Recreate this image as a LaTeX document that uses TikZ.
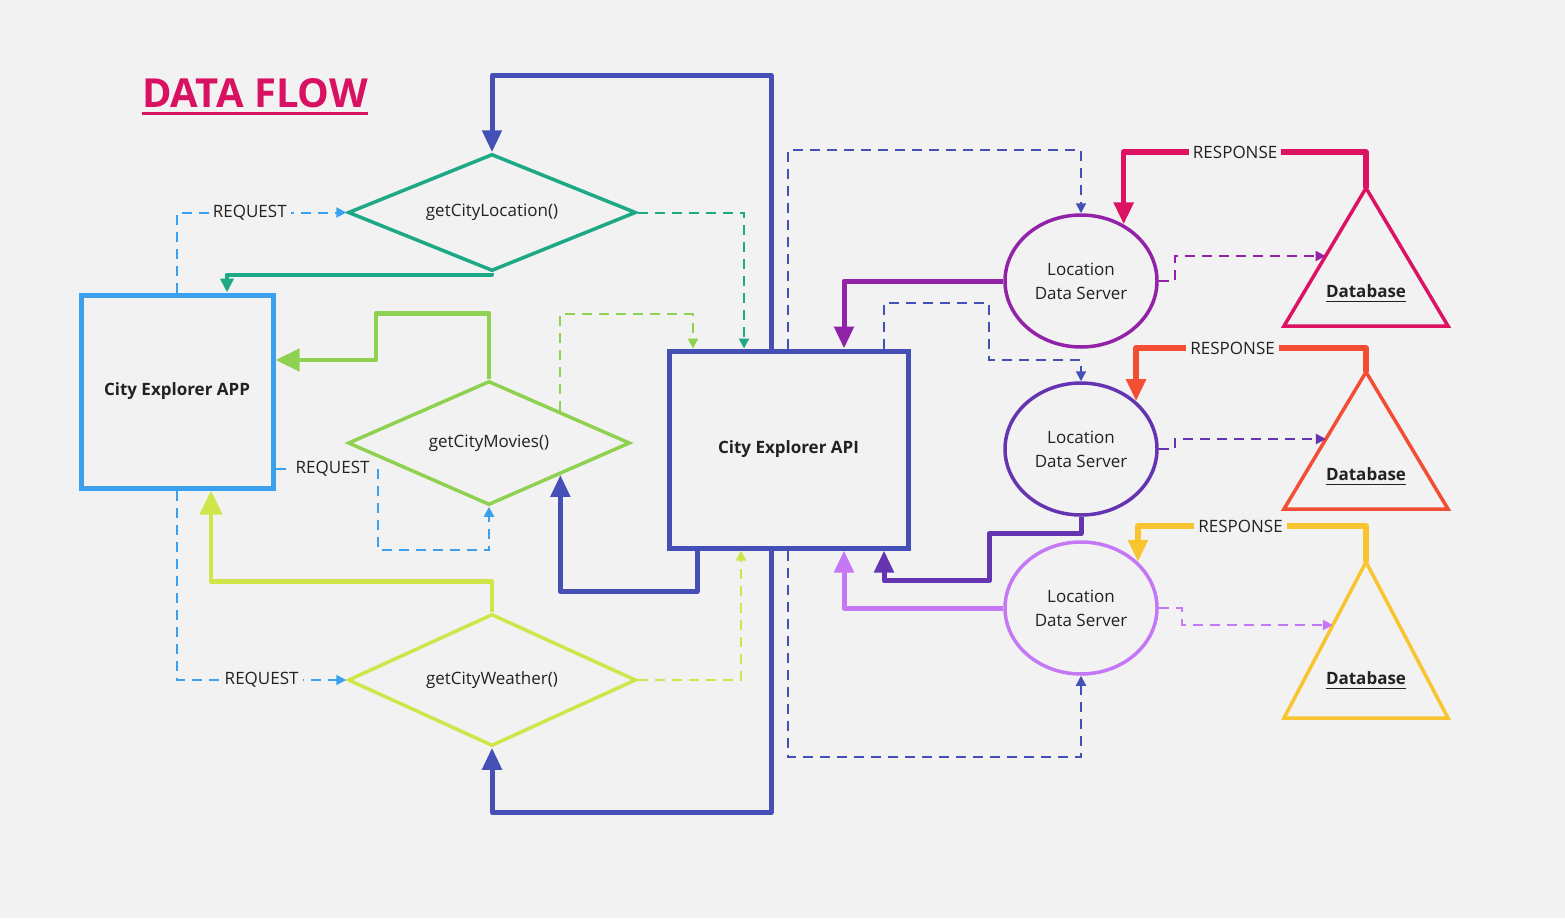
\documentclass[tikz,border=0pt]{standalone}
\usepackage{fontspec}
\setmainfont{Open Sans}
\usetikzlibrary{arrows.meta,shapes.geometric,calc}
\definecolor{bg}{HTML}{F2F2F2}
\definecolor{txt}{HTML}{222222}
\definecolor{appblue}{HTML}{3BA0EE}
\definecolor{indigo}{HTML}{4450B5}
\definecolor{teal}{HTML}{1DA886}
\definecolor{leaf}{HTML}{8FD150}
\definecolor{lime}{HTML}{D0E54A}
\definecolor{purA}{HTML}{9222A8}
\definecolor{purB}{HTML}{6535B1}
\definecolor{purC}{HTML}{C478F5}
\definecolor{magen}{HTML}{DC1263}
\definecolor{orng}{HTML}{F34D33}
\definecolor{yell}{HTML}{F8C530}
\definecolor{titlecol}{HTML}{D81162}
\tikzset{
  base/.style={font=\fontsize{17}{24}\selectfont, text=txt},
  boxnode/.style={base, draw, line width=5pt, rectangle, inner sep=0pt, font=\fontsize{17}{24}\selectfont\bfseries},
  dia/.style={base, draw, line width=3.5pt, diamond, inner sep=0pt},
  ell/.style={base, draw, line width=3.5pt, ellipse, inner sep=0pt, minimum width=152pt, minimum height=132pt, align=center},
  tri/.style={line width=3.5pt, line join=miter},
  thick5/.style={line width=5pt, line join=round, -{Triangle[length=22pt,width=19pt]}},
  thick4/.style={line width=4.5pt, line join=round, -{Triangle[length=24pt,width=22pt]}},
  thick3/.style={line width=3.5pt, line join=round, -{Triangle[length=14pt,width=13pt]}},
  dsh/.style={line width=2pt, dash pattern=on 10pt off 7pt, -{Triangle[length=10pt,width=10pt]}},
  lbl/.style={base, fill=bg, inner sep=4pt},
  dblbl/.style={base, font=\fontsize{17}{24}\selectfont\bfseries},
}
\begin{document}
\begin{tikzpicture}[x=1pt,y=-1pt]
\fill[bg] (0,0) rectangle (1565,918);
\useasboundingbox (0,0) rectangle (1565,918);

% title
\node[text=titlecol, font=\fontsize{40}{48}\selectfont\bfseries, inner sep=0pt] (title) at (255,93) {DATA FLOW};
\draw[titlecol, line width=2.5pt] ([yshift=-6pt]title.base west) -- ([yshift=-6pt]title.base east);

% main nodes
\node[boxnode, draw=appblue, minimum width=192pt, minimum height=193pt] (app) at (177,391.5) {City Explorer APP};
\node[boxnode, draw=indigo, minimum width=239pt, minimum height=197pt] (api) at (788.5,449.5) {City Explorer API};
\node[dia, draw=teal, aspect=2.46, minimum width=288pt, minimum height=117pt] (d1) at (492,212.5) {getCityLocation()};
\node[dia, draw=leaf, aspect=2.27, minimum width=282pt, minimum height=124pt] (d2) at (489,443) {getCityMovies()};
\node[dia, draw=lime, aspect=2.18, minimum width=288pt, minimum height=132pt] (d3) at (492,680) {getCityWeather()};
\node[ell, draw=purA] (e1) at (1081,281) {Location\\Data Server};
\node[ell, draw=purB] (e2) at (1081,449) {Location\\Data Server};
\node[ell, draw=purC] (e3) at (1081,608) {Location\\Data Server};

% triangles (databases)
\coordinate (t1a) at (1366,188); \coordinate (t1l) at (1284,326); \coordinate (t1r) at (1448,326);
\coordinate (t2a) at (1366,372); \coordinate (t2l) at (1284,509); \coordinate (t2r) at (1448,509);
\coordinate (t3a) at (1366,562); \coordinate (t3l) at (1284,718); \coordinate (t3r) at (1448,718);
\draw[tri, magen] (t1a) -- (t1l) -- (t1r) -- cycle;
\draw[tri, orng] (t2a) -- (t2l) -- (t2r) -- cycle;
\draw[tri, yell] (t3a) -- (t3l) -- (t3r) -- cycle;
\node[dblbl] (db1) at (1366,291) {Database};
\node[dblbl] (db2) at (1366,474) {Database};
\node[dblbl] (db3) at (1366,678) {Database};
\foreach \n in {db1,db2,db3}{
  \draw[txt, line width=1.5pt] ([xshift=4pt,yshift=-4pt]\n.base west) -- ([xshift=-4pt,yshift=-4pt]\n.base east);
}

% thick API -> functions
\draw[thick5, indigo] ([xshift=-17.5pt]api.north) -- ++(0,-273) -| (d1.north);
\draw[thick5, indigo] ([xshift=-17.5pt]api.south) -- ++(0,262) -| (d3.south);
\draw[thick5, indigo] ([xshift=-91.5pt]api.south) -- ++(0,41) -| (d2.south east);

% functions -> app
\draw[thick3, teal] (d1.south) -- ++(0,2) -| ([xshift=50pt]app.north);
\draw[thick4, leaf] (d2.north) -- ++(0,-66) -- ++(-113,0) |- ([yshift=31.5pt]app.east);
\draw[thick4, lime] (d3.north) -- ++(0,-31) -| ([xshift=34pt]app.south);

% requests app -> functions
\draw[dsh, appblue] (app.north) |- node[lbl, pos=0.715]{REQUEST} (d1.west);
\draw[dsh, appblue] ([yshift=-77.5pt]app.east) -- node[lbl, pos=0.56]{REQUEST} ++(102,0) -- ++(0,81) -| (d2.south);
\draw[dsh, appblue] (app.south) |- node[lbl, pos=0.75]{REQUEST} (d3.west);

% functions -> api dashed
\draw[dsh, teal] (d1.east) -| ([xshift=-44.5pt]api.north);
\draw[dsh, leaf] (d2.north east) -- ++(0,-97) -| ([xshift=-95.5pt]api.north);
\draw[dsh, lime] (d3.east) -| ([xshift=-47.5pt]api.south);

% api -> servers dashed
\draw[dsh, indigo] ([xshift=-0.5pt]api.north) -- ++(0,-199) -| (e1.north);
\draw[dsh, indigo] ([xshift=95.5pt]api.north) -- ++(0,-46) -- ++(105,0) -- ++(0,57) -| (e2.north);
\draw[dsh, indigo] ([xshift=-0.5pt]api.south) -- ++(0,206) -| (e3.south);

% servers -> api thick
\draw[thick5, purA] (e1.west) -| ([xshift=55.5pt]api.north);
\draw[thick5, purB] (e2.south) -- ++(0,17) -- ++(-92,0) -- ++(0,47) -| ([xshift=95.5pt]api.south);
\draw[thick5, purC] (e3.west) -| ([xshift=55.5pt]api.south);

% servers -> databases dashed
\draw[dsh, purA] (e1.east) -- ++(16,0) |- ($(t1a)!0.493!(t1l)$);
\draw[dsh, purB] (e2.east) -- ++(16,0) |- ($(t2a)!0.489!(t2l)$);
\draw[dsh, purC] (e3.east) -- ++(23,0) |- ($(t3a)!0.404!(t3l)$);

% responses
\draw[thick5, magen, line width=5.5pt] (t1a) -- ++(0,-36) coordinate (r1) -- node[lbl, pos=0.54]{RESPONSE} (r1 -| e1.53.6) -- (e1.53.6);
\draw[thick5, orng, line width=5.5pt] (t2a) -- ++(0,-24) coordinate (r2) -- node[lbl, pos=0.58]{RESPONSE} (r2 -| e2.41.7) -- (e2.41.7);
\draw[thick5, yell, line width=5.5pt] (t3a) -- ++(0,-36) coordinate (r3) -- node[lbl, pos=0.55]{RESPONSE} (r3 -| e3.39.6) -- (e3.39.6);
\end{tikzpicture}
\end{document}
